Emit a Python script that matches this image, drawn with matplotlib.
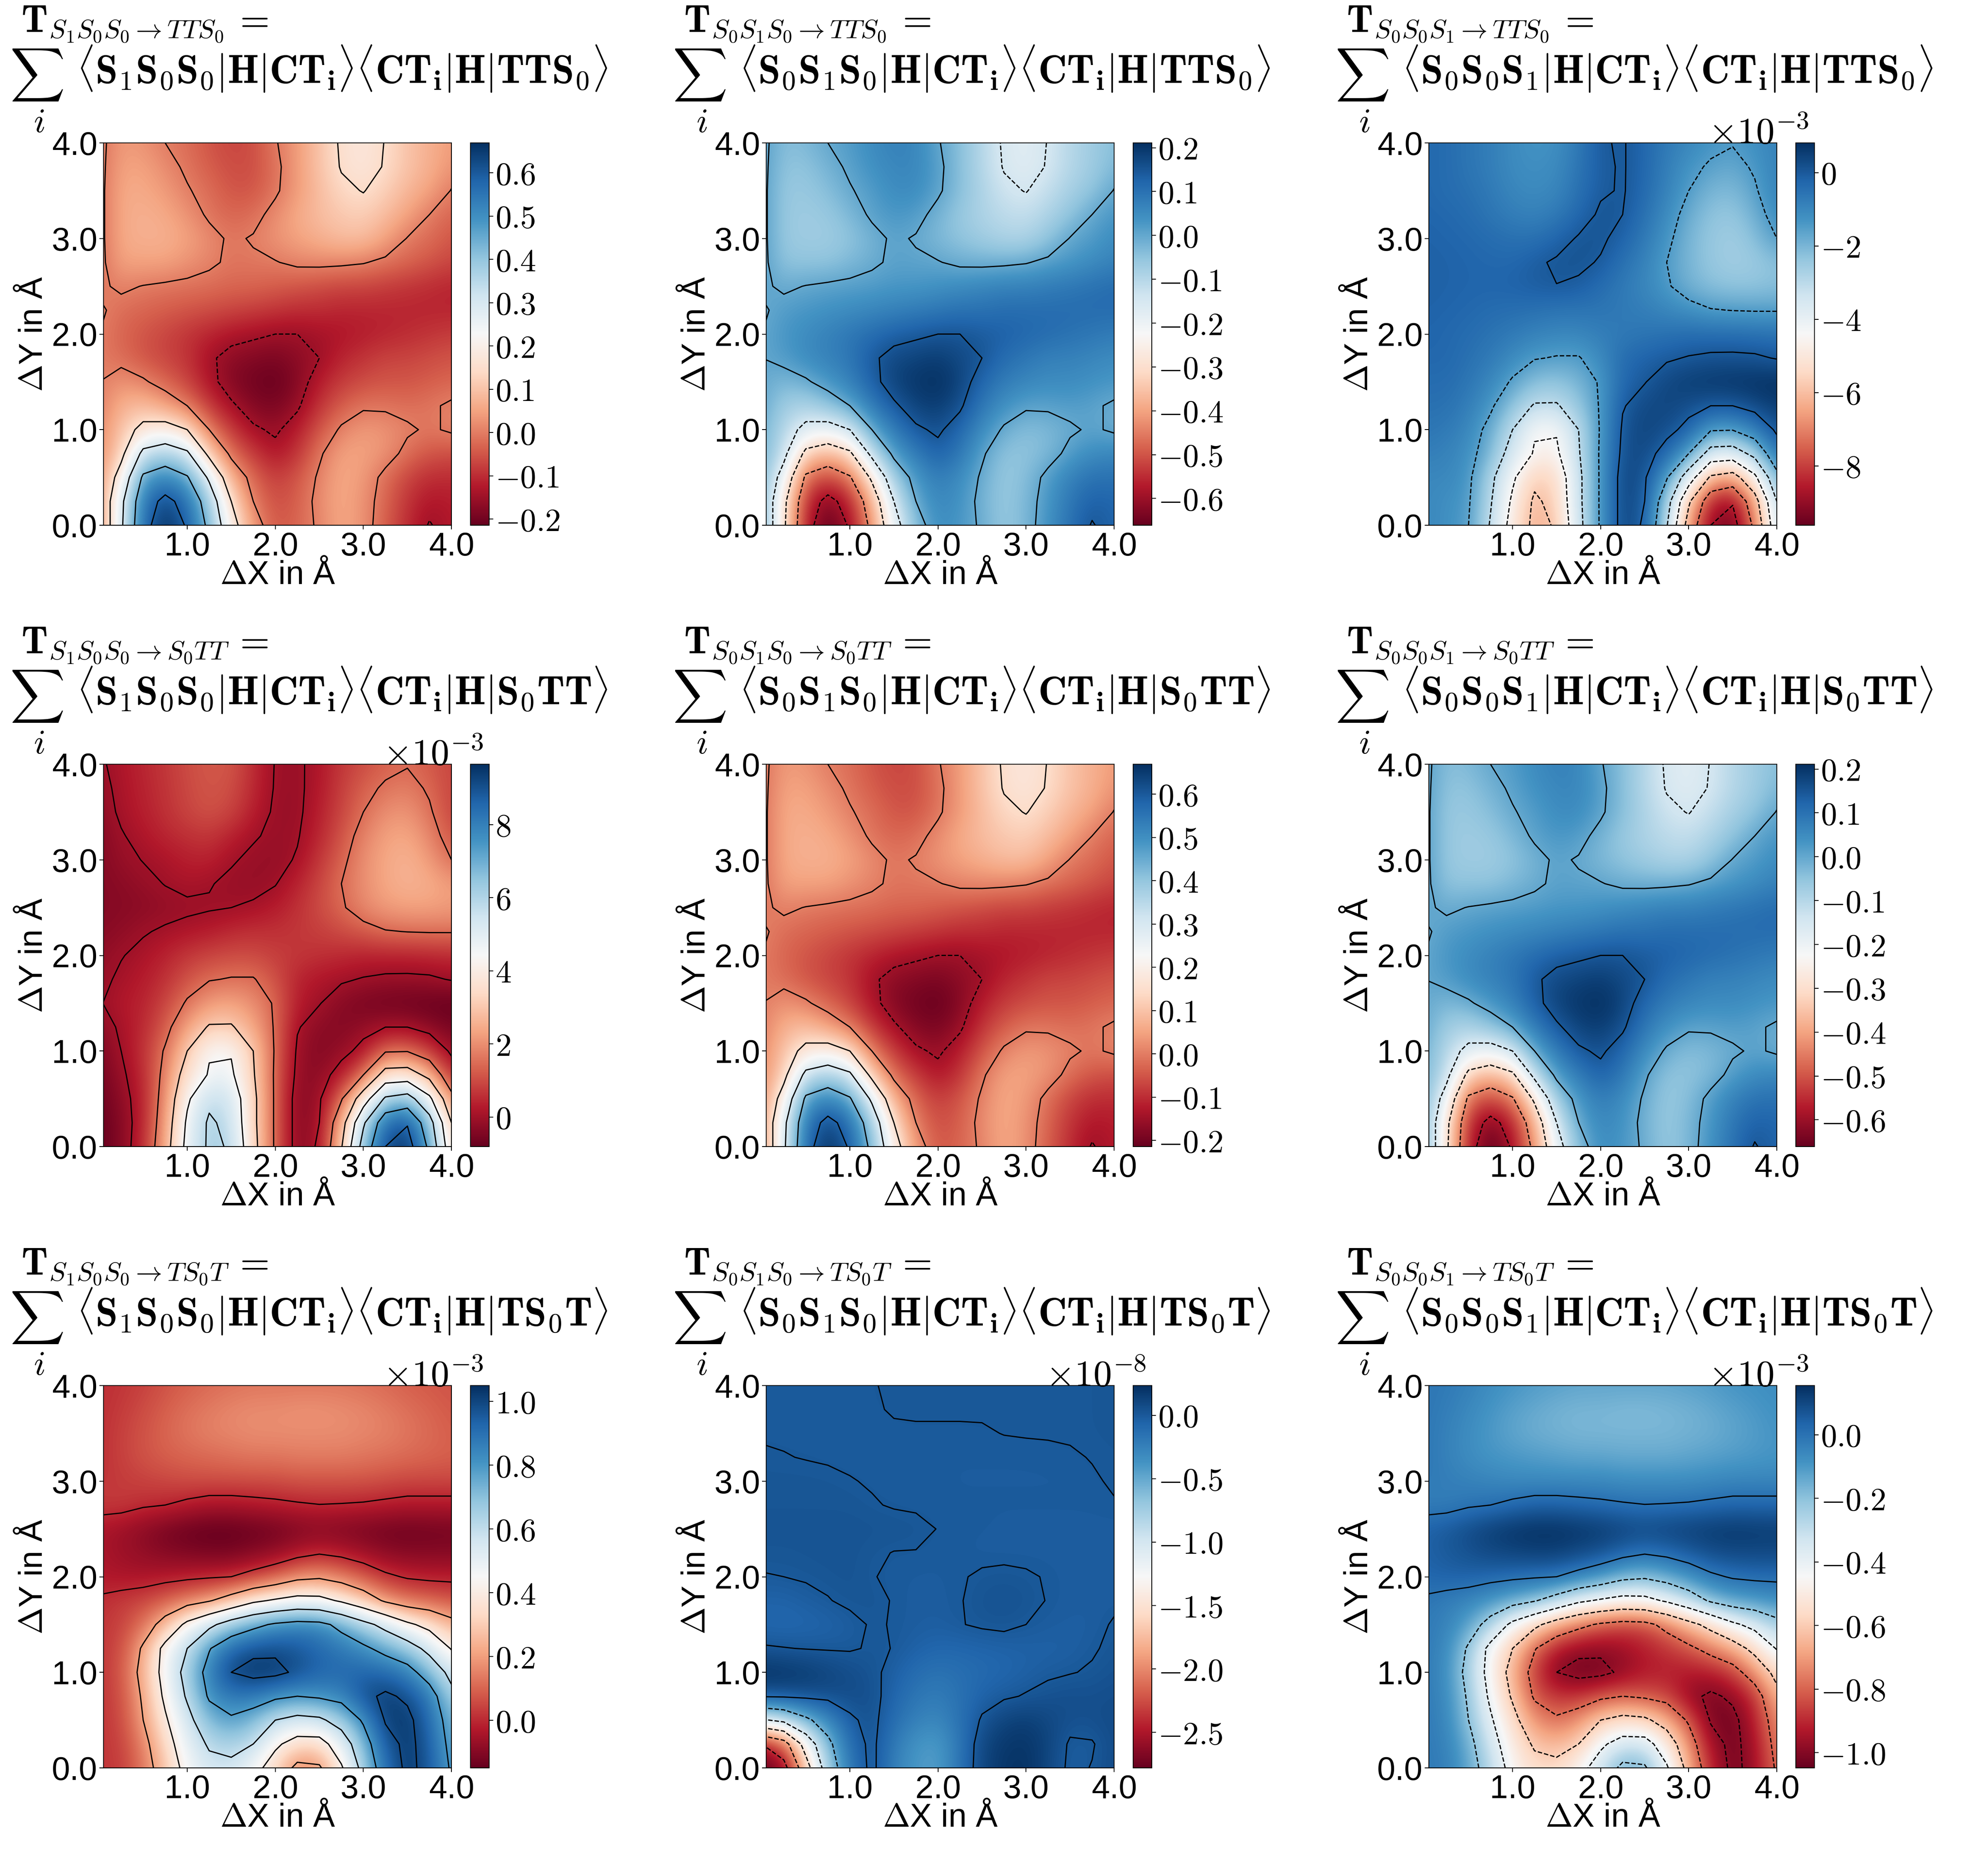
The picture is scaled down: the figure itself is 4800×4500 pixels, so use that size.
import numpy as np
import matplotlib
matplotlib.use('Agg')
import matplotlib.pyplot as plt

plt.rcParams['font.family'] = ['Liberation Sans', 'DejaVu Sans']
plt.rcParams['mathtext.fontset'] = 'cm'

# Values on a 0.25 Angstrom grid. Rows run from dY=0 up to dY=4,
# columns from dX=0 to dX=4.
DX = [0, .25, .5, .75, 1, 1.25, 1.5, 1.75, 2, 2.25, 2.5, 2.75, 3, 3.25, 3.5, 3.75, 4]
DY = [0, .25, .5, .75, 1, 1.25, 1.5, 1.75, 2, 2.25, 2.5, 2.75, 3, 3.25, 3.5, 3.75, 4]

# S1S0S0 -> TTS0 (S0S1S0 -> S0TT reads the same; the S0S1S0 -> TTS0 and S0S0S1 -> S0TT
# panels read as its sign-flipped image)
S1_TTS0 = [
 [.02,.28,.56,.67,.59,.42,.2,.04,-.05,-.03,.01,.06,.03,-.04,-.1,-.155,-.12],
 [.03,.27,.54,.63,.56,.38,.15,.0,-.06,-.04,.02,.06,.03,-.03,-.09,-.13,-.12],
 [.03,.2,.47,.52,.46,.28,.07,-.03,-.08,-.05,.01,.06,.04,-.02,-.07,-.1,-.1],
 [.02,.12,.33,.37,.32,.12,-.02,-.08,-.13,-.09,-.01,.05,.05,.03,-.02,-.05,-.06],
 [.01,.1,.18,.2,.15,.0,-.08,-.14,-.16,-.12,-.05,.01,.04,.03,.01,-.01,.01],
 [.0,.07,.09,.05,.0,-.08,-.14,-.18,-.19,-.16,-.09,-.04,-.01,-.01,-.02,-.01,.01],
 [.0,.03,.01,-.03,-.07,-.13,-.18,-.2,-.21,-.18,-.12,-.08,-.06,-.05,-.05,-.04,-.03],
 [.0,-.02,-.05,-.07,-.09,-.14,-.17,-.18,-.19,-.17,-.15,-.11,-.09,-.07,-.07,-.06,-.05],
 [.0,-.03,-.05,-.07,-.09,-.11,-.13,-.14,-.15,-.15,-.14,-.13,-.12,-.11,-.1,-.09,-.08],
 [.01,-.02,-.03,-.04,-.05,-.06,-.07,-.08,-.09,-.1,-.1,-.11,-.11,-.11,-.11,-.11,-.11],
 [-.01,.01,-.002,-.01,-.015,-.02,-.03,-.03,-.04,-.05,-.06,-.07,-.07,-.08,-.09,-.1,-.11],
 [-.02,.05,.05,.05,.03,.01,-.01,-.008,-.003,.012,.015,.012,.004,-.015,-.03,-.05,-.07],
 [-.02,.06,.07,.07,.05,.02,-.01,.005,.03,.05,.07,.09,.09,.05,-.003,-.02,-.05],
 [-.02,.06,.07,.06,.03,-.01,-.03,-.02,.02,.06,.09,.11,.12,.09,.05,.0,-.03],
 [-.02,.06,.06,.04,.005,-.02,-.05,-.05,-.01,.04,.09,.135,.153,.12,.08,.05,-.003],
 [-.02,.05,.05,.02,-.01,-.04,-.06,-.06,-.015,.04,.1,.155,.175,.145,.1,.07,.03],
 [-.02,.04,.03,.0,-.02,-.05,-.07,-.06,-.005,.04,.1,.16,.175,.148,.1,.07,.04],
]

# S0S0S1 -> TTS0, units of 1e-3
S3_TTS0 = [
 [-1.0,-1.2,-1.5,-3.1,-5,-6.3,-5.9,-3.4,-1.35,.4,-.1,-2.9,-6.6,-9,-9.5,-7.2,-3.5],
 [-1.0,-1.2,-1.4,-2.9,-4.7,-6.2,-5.6,-3.3,-1.35,.4,.0,-2.4,-5.8,-8.4,-8.9,-6.6,-3],
 [-1.05,-1.0,-1.3,-2.7,-4.3,-5.7,-5.4,-3.3,-1.35,.4,.1,-1.4,-3.8,-6.2,-6.6,-4.8,-1.9],
 [-.8,-.9,-1.2,-2,-3.6,-4.6,-4.7,-3.1,-1.35,.2,.3,-.3,-1.5,-3.6,-3.7,-2.6,-.55],
 [-.6,-.7,-1,-1.8,-3,-4.4,-4.4,-3,-1.4,.1,.4,.2,-.2,-1.4,-1.45,-.8,.15],
 [-.5,-.5,-.8,-1.35,-2.3,-3.1,-3.1,-2.4,-1.4,-.05,.3,.4,.2,.0,.0,.3,.55],
 [-.4,-.4,-.6,-1,-1.6,-2.2,-2.35,-2,-1.4,-.3,-.03,.35,.55,.65,.7,.75,.8],
 [-.3,-.3,-.5,-.7,-1.1,-1.45,-1.55,-1.55,-1.1,-.4,-.2,-.08,.04,.12,.13,.1,-.04],
 [-.25,-.3,-.4,-.55,-.7,-.9,-1,-1,-.8,-.7,-.6,-.5,-.4,-.4,-.4,-.45,-.5],
 [-.2,-.25,-.3,-.4,-.45,-.5,-.6,-.6,-.6,-.7,-.8,-1,-1.2,-1.45,-1.52,-1.55,-1.55],
 [-.15,-.2,-.25,-.25,-.2,-.1,-.01,-.1,-.4,-.7,-1,-1.4,-1.9,-2.2,-2.3,-2.3,-2.2],
 [-.15,-.2,-.25,-.3,-.3,-.1,.08,.12,-.05,-.5,-.9,-1.5,-2,-2.4,-2.6,-2.5,-2.2],
 [-.2,-.25,-.3,-.4,-.5,-.5,-.25,.06,.1,-.2,-.7,-1.3,-2,-2.4,-2.6,-2.2,-1.5],
 [-.25,-.3,-.4,-.6,-.8,-.9,-.7,-.3,.1,.0,-.5,-1.1,-1.8,-2.3,-2.4,-1.9,-1.1],
 [-.3,-.4,-.5,-.7,-1,-1.1,-1,-.5,-.08,.05,-.35,-.9,-1.5,-2,-2.1,-1.6,-.9],
 [-.3,-.4,-.6,-.8,-1.1,-1.2,-1.1,-.6,-.1,.05,-.3,-.8,-1.3,-1.6,-1.75,-1.4,-.9],
 [-.3,-.4,-.6,-.8,-1.1,-1.3,-1.2,-.7,-.05,.05,-.3,-.7,-1,-1.3,-1.45,-1.2,-.9],
]

# S1S0S0 -> S0TT, units of 1e-3
S1_S0TT = [
 [-.8,-.4,.5,2.4,4.9,6.2,5.9,3.4,1.35,-.4,.1,2.9,6.6,9,9.6,7.2,3.5],
 [-.8,-.4,.4,2.2,4.7,6.2,5.6,3.3,1.35,-.4,.0,2.4,5.8,8.4,8.9,6.6,3],
 [-.7,-.3,.4,2,4.3,5.7,5.4,3.3,1.35,-.4,-.1,1.4,3.8,6.2,6.6,4.8,1.9],
 [-.6,-.15,.5,1.8,3.6,4.6,4.7,3.1,1.35,-.2,-.3,.3,1.5,3.6,3.7,2.6,.55],
 [-.5,.0,.6,1.6,3,4.4,4.4,3,1.4,-.1,-.4,-.2,.2,1.4,1.45,.8,-.15],
 [-.3,.1,.5,1.2,2.3,3.1,3.1,2.4,1.4,.05,-.3,-.4,-.2,.0,.0,-.3,-.55],
 [-.05,.25,.4,.9,1.6,2.2,2.35,2,1.4,.3,.03,-.35,-.55,-.65,-.7,-.75,-.8],
 [-.15,.1,.3,.6,1.1,1.45,1.55,1.55,1.1,.4,.2,.08,-.04,-.12,-.13,-.1,.04],
 [-.25,-.03,.15,.4,.7,.9,1,1,.8,.7,.6,.5,.4,.4,.4,.45,.5],
 [-.35,-.25,-.05,.08,.2,.3,.5,.6,.6,.7,.8,1,1.2,1.45,1.52,1.55,1.55],
 [-.4,-.35,-.3,-.2,-.12,-.05,.0,.1,.3,.6,1,1.4,1.9,2.2,2.3,2.3,2.2],
 [-.4,-.3,-.15,.02,.15,.03,-.1,-.2,-.03,.4,.9,1.5,2,2.4,2.6,2.5,2.2],
 [-.4,-.15,.02,.15,.35,.4,.05,-.1,-.2,.06,.7,1.3,2,2.4,2.6,2.2,1.5],
 [-.4,-.05,.2,.45,.6,.7,.4,.05,-.1,-.05,.45,1.1,1.8,2.3,2.4,1.9,1.1],
 [-.3,.1,.35,.6,.9,1.1,.9,.35,-.1,-.12,.35,.9,1.5,2,2.1,1.6,.9],
 [-.2,.15,.4,.65,.95,1.15,1.05,.5,-.05,-.12,.25,.8,1.3,1.6,1.75,1.4,.9],
 [-.1,.2,.45,.7,1,1.2,1.15,.55,-.03,-.1,.2,.7,1,1.3,1.45,1.2,.9],
]

# S1S0S0 -> TS0T, units of 1e-3 (the S0S0S1 -> TS0T panel reads as its sign-flipped image)
S1_TS0T = [
 [.02,.03,.13,.28,.46,.55,.56,.46,.32,.16,.18,.38,.66,.9,1.03,.96,.78],
 [.02,.04,.15,.33,.5,.62,.65,.6,.43,.33,.33,.5,.72,.95,1.03,.95,.75],
 [.02,.05,.2,.38,.55,.72,.78,.72,.6,.55,.57,.67,.82,1.01,1.03,.92,.72],
 [.02,.06,.22,.43,.62,.82,.88,.88,.83,.8,.82,.85,.97,1.02,.98,.88,.65],
 [.02,.07,.25,.46,.66,.86,1.0,1.04,1.03,.98,.93,.92,.93,.92,.86,.72,.55],
 [.02,.06,.22,.45,.6,.79,.92,.97,.98,.96,.92,.88,.83,.75,.68,.55,.39],
 [.02,.04,.12,.26,.44,.56,.68,.76,.82,.85,.84,.76,.65,.55,.43,.35,.25],
 [.01,.03,.05,.09,.14,.19,.27,.37,.42,.46,.45,.38,.29,.18,.12,.1,.07],
 [-.03,-.04,-.04,-.03,-.02,-.01,.0,.04,.09,.16,.18,.14,.08,.02,-.01,-.02,-.02],
 [-.04,-.06,-.08,-.1,-.11,-.12,-.12,-.1,-.08,-.04,-.01,-.03,-.06,-.09,-.1,-.1,-.1],
 [-.04,-.06,-.09,-.12,-.14,-.15,-.15,-.14,-.13,-.11,-.1,-.11,-.12,-.13,-.135,-.13,-.125],
 [.03,.03,.01,.0,-.02,-.04,-.04,-.03,-.02,-.01,-.002,-.005,-.01,-.02,-.03,-.03,-.03],
 [.02,.03,.04,.05,.06,.06,.06,.06,.06,.07,.07,.07,.07,.06,.05,.05,.05],
 [.01,.04,.07,.09,.1,.11,.12,.13,.13,.14,.14,.14,.13,.12,.11,.1,.09],
 [.01,.04,.07,.1,.13,.15,.16,.17,.17,.17,.17,.17,.16,.15,.13,.11,.09],
 [.01,.03,.06,.09,.12,.14,.16,.17,.17,.18,.18,.17,.16,.14,.12,.1,.08],
 [.01,.02,.04,.07,.09,.11,.12,.13,.13,.13,.13,.13,.12,.11,.09,.08,.07],
]

# S0S1S0 -> TS0T, units of 1e-8
S2_TS0T = [
 [-2.78,-2.65,-1.7,-.75,-.2,.06,-.25,-.4,-.45,-.15,.1,.2,.22,.1,-.03,.005,.08],
 [-2.5,-2.2,-1.3,-.6,-.12,.05,-.2,-.38,-.42,-.18,.1,.18,.2,.12,-.02,-.01,.07],
 [-1.05,-.9,-.58,-.3,-.03,.05,-.12,-.25,-.3,-.15,.02,.12,.15,.1,.05,.05,.08],
 [.02,.03,.05,.06,.07,.05,-.07,-.18,-.22,-.15,-.06,-.02,.01,.04,.06,.05,.06],
 [.22,.2,.17,.12,.07,.03,-.04,-.12,-.16,-.13,-.1,-.08,-.05,-.02,-.005,.01,.04],
 [.015,.005,-.005,-.01,-.01,.01,-.002,-.05,-.08,-.08,-.07,-.06,-.05,-.05,-.04,-.01,.02],
 [-.08,-.09,-.08,-.06,-.03,.01,-.005,-.02,-.03,-.005,.015,.025,.0,-.02,-.03,-.03,.01],
 [-.06,-.06,-.03,-.005,.02,.02,-.005,-.02,-.02,-.005,.03,.04,.03,-.005,-.02,-.02,-.02],
 [-.005,.0,.01,.02,.03,.003,-.01,-.015,-.015,-.007,.012,.02,.01,-.006,-.02,-.02,-.02],
 [.02,.02,.025,.03,.03,.01,-.002,-.003,-.01,-.01,-.02,-.02,-.02,-.02,-.02,-.02,-.02],
 [.03,.03,.03,.03,.03,.03,.025,.02,-.002,-.01,-.01,-.02,-.02,-.02,-.02,-.02,-.02],
 [.02,.02,.02,.02,.02,.005,-.005,-.01,-.01,-.01,-.01,-.01,-.01,-.01,-.01,-.01,-.003],
 [.015,.015,.015,.012,.003,-.005,-.01,-.01,-.01,-.015,-.015,-.015,-.015,-.015,-.015,-.005,.005],
 [.005,.002,-.002,-.006,-.01,-.012,-.012,-.012,-.012,-.012,-.012,-.012,-.012,-.01,-.005,.002,.01],
 [-.004,-.006,-.008,-.01,-.01,-.01,-.005,-.005,-.005,-.005,-.004,.001,.003,.004,.005,.01,.015],
 [-.006,-.008,-.01,-.01,-.008,-.004,.003,.005,.005,.005,.005,.005,.006,.006,.007,.01,.015],
 [-.006,-.008,-.01,-.01,-.008,-.002,.005,.006,.006,.006,.006,.006,.006,.006,.007,.01,.015],
]

S1_FLIP = [[-v for v in row] for row in S1_TTS0]
TS0T_FLIP = [[-v for v in row] for row in S1_TS0T]

GRIDS = [[S1_TTS0, S1_FLIP, S3_TTS0],
         [S1_S0TT, S1_TTS0, S1_FLIP],
         [S1_TS0T, S2_TS0T, TS0T_FLIP]]

COLOR_RANGE = [[(-.214, .669), (-.661, .211), (-9.62, .81)],
               [(-.81, 9.65), (-.214, .669), (-.661, .211)],
               [(-.149, 1.05), (-2.78, .234), (-1.048, .155)]]

LEVELS = [[[-.15, 0, .15, .3, .45, .6], [-.6, -.45, -.3, -.15, 0, .15], [-9, -7.5, -6, -4.5, -3, -1.5, 0]],
          [[0, 1.5, 3, 4.5, 6, 7.5, 9], [-.15, 0, .15, .3, .45, .6], [-.6, -.45, -.3, -.15, 0, .15]],
          [[0, .2, .4, .6, .8, 1.0], [-2.5, -2, -1.5, -1, -.5, 0], [-1, -.8, -.6, -.4, -.2, 0]]]

CBAR_TICKS = [[[-.2, -.1, 0, .1, .2, .3, .4, .5, .6], [-.6, -.5, -.4, -.3, -.2, -.1, 0, .1, .2], [-8, -6, -4, -2, 0]],
              [[0, 2, 4, 6, 8], [-.2, -.1, 0, .1, .2, .3, .4, .5, .6], [-.6, -.5, -.4, -.3, -.2, -.1, 0, .1, .2]],
              [[0, .2, .4, .6, .8, 1.0], [-2.5, -2, -1.5, -1, -.5, 0], [-1, -.8, -.6, -.4, -.2, 0]]]

CBAR_FMT = [['%.1f', '%.1f', '%d'], ['%d', '%.1f', '%.1f'], ['%.1f', '%.1f', '%.1f']]
EXPONENT = [[None, None, -3], [-3, None, None], [-3, -8, -3]]

INITIAL = ['S_1S_0S_0', 'S_0S_1S_0', 'S_0S_0S_1']
FINAL = ['TTS_0', 'S_0TT', 'TS_0T']
AXIS_TICKS_X = [1, 2, 3, 4]
AXIS_TICKS_Y = [0, 1, 2, 3, 4]

W, H = 4800, 4500
fig = plt.figure(figsize=(16, 15), dpi=300, facecolor='white')


def rect(l, t, r, b):
    return [l / W, 1 - b / H, (r - l) / W, (b - t) / H]


def put(x, y, s, **kw):
    fig.text(x / W, 1 - y / H, s, **kw)


for r in range(3):
    for c in range(3):
        ox, oy = 1600 * c, 1500 * r
        ax = fig.add_axes(rect(250 + ox, 345 + oy, 1090 + ox, 1268 + oy))
        cax = fig.add_axes(rect(1136 + ox, 345 + oy, 1181 + ox, 1268 + oy))
        Z = np.array(GRIDS[r][c], dtype=float)
        vmin, vmax = COLOR_RANGE[r][c]
        im = ax.imshow(Z, origin='lower', extent=(-.125, 4.125, -.125, 4.125), aspect='auto',
                       cmap='RdBu', vmin=vmin, vmax=vmax, interpolation='bicubic')
        ax.contour(DX, DY, Z, levels=LEVELS[r][c], colors='k', linewidths=0.7)
        ax.set_xlim(.05, 4)
        ax.set_ylim(0, 4)
        ax.set_xticks(AXIS_TICKS_X)
        ax.set_yticks(AXIS_TICKS_Y)
        ax.set_xticklabels(['%.1f' % v for v in AXIS_TICKS_X])
        ax.set_yticklabels(['%.1f' % v for v in AXIS_TICKS_Y])
        ax.tick_params(labelsize=19, length=2.5, width=.5, pad=1)
        for s in ax.spines.values():
            s.set_linewidth(.5)
        ax.set_xlabel('$\\Delta$X in Å', fontsize=19, va='center')
        ax.xaxis.set_label_coords(.5, -.132)
        ax.set_ylabel('$\\Delta$Y in Å', fontsize=19, va='center')
        ax.yaxis.set_label_coords(-.2, .5)

        cb = fig.colorbar(im, cax=cax)
        cb.outline.set_linewidth(.5)
        ticks = CBAR_TICKS[r][c]
        cb.set_ticks(ticks)
        cb.set_ticklabels(['$' + (CBAR_FMT[r][c] % v) + '$' for v in ticks])
        cax.tick_params(labelsize=18.5, length=2.5, width=.5, pad=1)
        if EXPONENT[r][c] is not None:
            put(1168 + ox, 347 + oy, '$\\times 10^{%d}$' % EXPONENT[r][c], fontsize=21.5, ha='right', va='baseline')

        a, b = INITIAL[c], FINAL[r]
        put(51 + ox, 77 + oy, '$\\mathbf{T}_{%s\\rightarrow %s}\\,=$' % (a, b), fontsize=22, va='baseline')
        put(24 + ox, 212 + oy, '$\\sum$', fontsize=22, va='baseline')
        put(94 + ox, 297 + oy, '$i$', fontsize=20, ha='center', va='center')
        put(185 + ox, 201 + oy,
            '$\\langle\\mathbf{%s|H|CT_i}\\rangle\\langle\\mathbf{CT_i|H|%s}\\rangle$' % (a, b),
            fontsize=23, va='baseline')

fig.savefig('out.png', dpi=300)
